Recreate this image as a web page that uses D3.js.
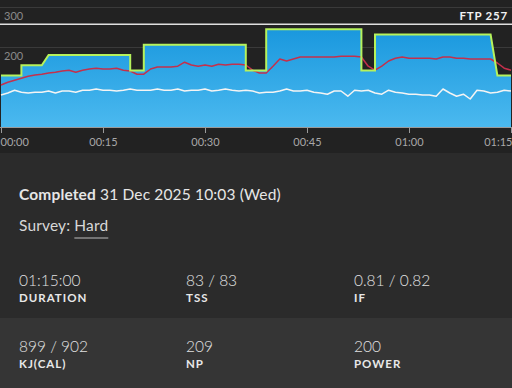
<!DOCTYPE html>
<html><head><meta charset="utf-8">
<script src="https://cdn.jsdelivr.net/npm/d3@7"></script>
<style>
html,body{margin:0;padding:0;background:#2b2b2b;}
svg{display:block;}
</style></head>
<body><svg id="c" width="512" height="388"></svg>
<script>
const FTP = 257;
const xTicks = [0, 15, 30, 45, 60, 75];
const xTickLabels = ["00:00","00:15","00:30","00:45","01:00","01:15"];
const yTicks = [200, 300];
// target power steps (minutes, % FTP)
const targetT   = [0, 3, 3, 6, 7, 19, 19, 21, 21, 36, 36, 39, 39, 53, 53, 55, 55, 72, 73, 75];
const targetPct = [50,50,60,60,70, 70, 55, 55, 80, 80, 55, 55, 95, 95, 55, 55, 90, 90, 50, 50];
// red line (per minute)
const redVals = [105,112,117,122,127,130,132,135,137,140,142,137,142,145,147,145,145,147,142,140,
  132,132,145,150,150,150,152,162,155,152,155,152,157,155,157,157,155,142,135,135,
  152,170,165,170,175,175,175,175,175,175,177,177,177,175,152,142,152,165,172,175,
  172,172,172,172,170,175,175,172,172,170,170,170,170,160,147,142];
// white line (per minute)
const whiteVals = [80,85,92,87,85,87,87,90,85,90,90,87,92,92,95,92,92,90,92,95,
  92,92,92,95,92,92,95,90,92,92,95,90,92,95,92,90,92,90,85,87,
  87,90,95,90,90,92,87,85,82,90,90,77,92,90,92,85,82,92,87,85,
  82,82,80,80,77,95,85,77,82,70,92,90,85,87,92,90];
const stats = [
  {value:"01:15:00", label:"DURATION"},
  {value:"83 / 83", label:"TSS"},
  {value:"0.81 / 0.82", label:"IF"},
  {value:"899 / 902", label:"KJ(CAL)"},
  {value:"209", label:"NP"},
  {value:"200", label:"POWER"}
];

const svg = d3.select("#c");
const FONT = "Lato, 'Open Sans', sans-serif";
const x = d3.scaleLinear().domain([0,75]).range([1,511]);
const y = d3.scaleLinear().domain([0,300]).range([127,7]);

// backgrounds
svg.append("rect").attr("x",0).attr("y",0).attr("width",512).attr("height",153).attr("fill","#222222");
svg.append("rect").attr("x",0).attr("y",153).attr("width",512).attr("height",165).attr("fill","#2b2b2b");
svg.append("rect").attr("x",0).attr("y",318).attr("width",512).attr("height",70).attr("fill","#353535");

// gradient
const defs = svg.append("defs");
const g = defs.append("linearGradient").attr("id","blue").attr("x1",0).attr("y1",0).attr("x2",0).attr("y2",1);
g.append("stop").attr("offset","0%").attr("stop-color","#1a98de");
g.append("stop").attr("offset","100%").attr("stop-color","#4bb9ef");

// grid lines
svg.selectAll(".grid").data(yTicks).enter().append("line")
  .attr("x1",0).attr("x2",512).attr("y1",d=>y(d)+0.5).attr("y2",d=>y(d)+0.5)
  .attr("stroke","#3a3a3a").attr("stroke-width",1);
svg.selectAll(".glab").data(yTicks).enter().append("text")
  .attr("x",4).attr("y",d=>y(d)+13).text(d=>d)
  .attr("fill","#8a8a8a").attr("font-size",11).attr("font-family",FONT);

// target area
const tgt = targetT.map((t,i)=>({t, w: targetPct[i]/100*FTP}));
svg.append("path").datum(tgt)
  .attr("d", d3.area().x(d=>x(d.t)).y0(y(0)).y1(d=>y(d.w)))
  .attr("fill","url(#blue)");

// FTP line
svg.append("line").attr("x1",0).attr("x2",512).attr("y1",y(FTP)).attr("y2",y(FTP))
  .attr("stroke","#e0e0e0").attr("stroke-width",1.5);
svg.append("text").attr("x",508).attr("y",y(FTP)-4).attr("text-anchor","end")
  .text("FTP " + FTP).attr("fill","#f2f2f2").attr("font-size",11.5).attr("font-weight","bold")
  .attr("letter-spacing",0.8).attr("font-family",FONT);

// white line
svg.append("path").datum(whiteVals)
  .attr("d", d3.line().x((d,i)=>x(i)).y(d=>y(d)))
  .attr("fill","none").attr("stroke","#f4f4f4").attr("stroke-width",1.5).attr("stroke-linejoin","round");
// red line
svg.append("path").datum(redVals)
  .attr("d", d3.line().x((d,i)=>x(i)).y(d=>y(d)))
  .attr("fill","none").attr("stroke","#c4304c").attr("stroke-width",1.5).attr("stroke-linejoin","round");
// target outline
svg.append("path").datum(tgt)
  .attr("d", d3.line().x(d=>x(d.t)).y(d=>y(d.w)))
  .attr("fill","none").attr("stroke","#b6f25c").attr("stroke-width",2);

// x axis
const ax = svg.append("g").attr("transform","translate(0,127)")
  .call(d3.axisBottom(x).tickValues(xTicks).tickSize(6).tickFormat((d,i)=>xTickLabels[i]));
ax.select(".domain").attr("stroke","#9a9a9a").attr("d","M0,0.5H512");
ax.selectAll(".tick line").attr("stroke","#9a9a9a");
ax.selectAll(".tick text").attr("fill","#a8a8a8").attr("font-size",11).attr("font-family",FONT).attr("dy","0.9em")
  .attr("text-anchor",(d,i)=> i===0 ? "start" : (i===xTicks.length-1 ? "end" : "middle"))
  .attr("dx",(d,i)=> i===0 ? -1 : (i===xTicks.length-1 ? 1 : 0));

// info
const info = svg.append("text").attr("x",19).attr("y",200).attr("font-size",15.5).attr("letter-spacing",0.15)
  .attr("font-family",FONT).attr("fill","#e6e6e6");
info.append("tspan").attr("font-weight","bold").text("Completed");
info.append("tspan").text(" 31 Dec 2025 10:03 (Wed)");
const sv = svg.append("text").attr("x",19).attr("y",231).attr("font-size",15.5).attr("letter-spacing",0.15)
  .attr("font-family",FONT).attr("fill","#d8d8d8");
sv.append("tspan").text("Survey: ");
sv.append("tspan").attr("id","hard").text("Hard");
const hb = document.getElementById("hard").getBBox();
svg.append("line").attr("x1",hb.x).attr("x2",hb.x+hb.width).attr("y1",238).attr("y2",238)
  .attr("stroke","#bdbdbd").attr("stroke-width",1);

// stats
const colX = [19,186,354];
const rowY = [286,352];
stats.forEach((s,i)=>{
  const cx = colX[i%3], ry = rowY[Math.floor(i/3)];
  svg.append("text").attr("x",cx).attr("y",ry).text(s.value)
    .attr("font-size",15.5).attr("font-weight",300).attr("font-family",FONT).attr("fill","#e2e2e2");
  svg.append("text").attr("x",cx).attr("y",ry+16).text(s.label)
    .attr("font-size",11.5).attr("font-weight","bold").attr("letter-spacing",1).attr("font-family",FONT).attr("fill","#e8e8e8");
});
</script></body></html>
